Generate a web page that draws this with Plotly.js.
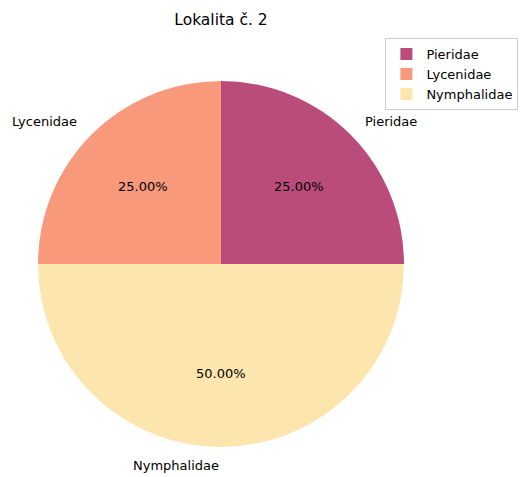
<!DOCTYPE html>
<html><head><meta charset="utf-8">
<script src="https://cdn.plot.ly/plotly-3.0.1.min.js"></script>
<style>html,body{margin:0;padding:0;background:#fff}</style>
</head><body><div id="chart" style="width:521px;height:477px"></div>
<script>
const categories = ["Pieridae", "Lycenidae", "Nymphalidae"];
const values = [25, 25, 50];
const colors = ["#b94c7b", "#f7997a", "#fde6ae"];
const chartTitle = "Lokalita č. 2";

const W = 521, H = 477;
const cx = 221, cy = 264, R = 183;
const font = {family: "DejaVu Sans", size: 13, color: "#000"};

// labels (1.1 R) and percentages (0.6 R) positioned from the data, CCW from 0°
const total = values.reduce((a, b) => a + b, 0);
let acc = 0;
const annotations = [];
values.forEach((v, i) => {
  const mid = (acc + v / 2) / total * 2 * Math.PI;
  acc += v;
  const c = Math.cos(mid), s = Math.sin(mid);
  annotations.push({
    x: (cx + 1.1 * R * c) / W, y: 1 - (cy - 1.1 * R * s) / H, xref: "paper", yref: "paper",
    text: categories[i], showarrow: false,
    xanchor: c > 0 ? "left" : "right", yanchor: "middle", font: font
  });
  annotations.push({
    x: (cx + 0.6 * R * c) / W, y: 1 - (cy - 0.6 * R * s) / H, xref: "paper", yref: "paper",
    text: (v / total * 100).toFixed(2) + "%", showarrow: false,
    xanchor: "center", yanchor: "middle", font: font
  });
});

const trace = {
  type: "pie",
  labels: categories,
  values: values,
  sort: false,
  direction: "counterclockwise",
  rotation: 0,
  marker: {colors: colors, line: {width: 0}},
  textinfo: "none",
  hoverinfo: "label+percent",
  domain: {x: [(cx - R) / W, (cx + R) / W], y: [1 - (cy + R) / H, 1 - (cy - R) / H]}
};

const layout = {
  width: W, height: H,
  margin: {l: 0, r: 0, t: 0, b: 0},
  paper_bgcolor: "#fff",
  title: {text: chartTitle, font: {family: "DejaVu Sans", size: 15.5, color: "#000"}, x: cx / W, xanchor: "center", y: 1 - 20 / H, yanchor: "middle"},
  showlegend: true,
  legend: {x: 0.995, xanchor: "right", y: 0.92, yanchor: "top", bordercolor: "#cccccc", borderwidth: 1, font: font, traceorder: "normal"},
  annotations: annotations
};

Plotly.newPlot("chart", [trace], layout, {displayModeBar: false});
</script></body></html>
